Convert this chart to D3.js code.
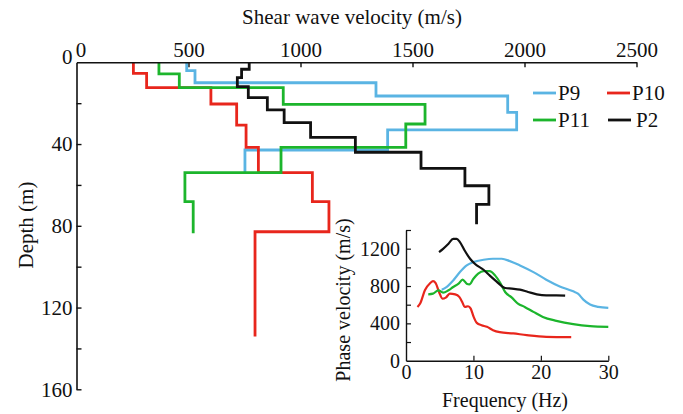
<!DOCTYPE html>
<html>
<head>
<meta charset="utf-8">
<script src="https://cdn.jsdelivr.net/npm/d3@7"></script>
<style>
  html, body { margin: 0; padding: 0; background: #fff; }
  svg { display: block; }
  text { font-family: "Liberation Serif", "Times New Roman", serif; fill: #111; }
</style>
</head>
<body>
<svg id="chart" width="683" height="414"></svg>
<script>
// ---- Main chart: shear-wave velocity step profiles ----
const velTicks = [0, 500, 1000, 1500, 2000, 2500];
const depthTicks = [0, 20, 40, 60, 80, 100, 120, 140, 160];
const depthLabels = [0, 40, 80, 120, 160];

const profileNames = ["P9", "P10", "P11", "P2"];
const profileColors = ["#5ab4e3", "#e8261c", "#1cb52c", "#111111"];

// layer velocities (m/s) and layer boundaries (m)
const P9_vel   = [492, 529, 1337, 1925, 1965, 1389, 752];
const P9_depth = [0, 4.1, 10, 16.5, 24.5, 33.1, 42.9, 54];
const P10_vel   = [254, 313, 600, 715, 757, 812, 1053, 1127, 797];
const P10_depth = [0, 5.4, 12.4, 20.4, 30.7, 41.6, 54, 68.2, 82.9, 134.2];
const P11_vel   = [368, 459, 923, 1556, 1470, 913, 484, 521];
const P11_depth = [0, 5.7, 12.4, 20.6, 30.2, 41.6, 54, 68.2, 83.7];
const P2_vel   = [771, 737, 718, 767, 852, 927, 1045, 1245, 1538, 1734, 1841, 1786];
const P2_depth = [0, 3.4, 7.5, 11.9, 17.3, 23.3, 29.5, 36.7, 44, 51.9, 60.4, 69.5, 79.3];

// ---- Inset: dispersion curves ----
const freqTicks = [0, 10, 20, 30];
const phaseTicks = [0, 200, 400, 600, 800, 1000, 1200, 1400];
const phaseLabels = [0, 400, 800, 1200];

const P9_f = [5.3, 6.0, 7.0, 8.0, 9.0, 10.0, 11.5, 12.9, 14.2, 15.4, 16.9, 18.9, 20.8, 22.8, 24.8, 25.5, 26.3, 27.3, 28.5, 30.0];
const P9_c = [761, 789, 860, 949, 1020, 1056, 1081, 1092, 1092, 1067, 1020, 949, 868, 796, 743, 718, 654, 601, 576, 565];
const P10_f = [1.7, 2.1, 2.8, 3.6, 4.0, 4.4, 4.9, 5.4, 5.9, 6.5, 7.3, 7.9, 8.4, 8.7, 9.2, 9.6, 10.0, 10.5, 11.2, 12.0, 12.9, 13.9, 15.9, 17.9, 20.8, 24.5];
const P10_c = [576, 612, 754, 832, 853, 832, 736, 665, 676, 718, 711, 683, 619, 576, 583, 558, 476, 405, 380, 363, 327, 306, 292, 274, 256, 252];
const P11_f = [3.3, 4.0, 4.8, 5.5, 6.3, 7.0, 7.8, 8.4, 9.0, 9.4, 10.0, 10.7, 11.5, 12.4, 13.2, 13.9, 14.7, 15.7, 16.6, 17.6, 18.9, 20.3, 22.3, 24.8, 27.3, 30.0];
const P11_c = [711, 718, 754, 729, 754, 789, 825, 868, 825, 818, 878, 932, 960, 960, 914, 843, 736, 676, 612, 576, 523, 469, 427, 391, 370, 363];
const P2_f = [4.9, 5.5, 6.3, 7.0, 7.5, 8.0, 8.7, 9.5, 10.2, 11.5, 12.4, 13.4, 14.7, 15.7, 16.9, 18.1, 19.4, 20.8, 22.3, 23.6];
const P2_c = [1163, 1198, 1252, 1305, 1305, 1270, 1180, 1092, 1038, 974, 914, 850, 779, 772, 761, 736, 711, 700, 700, 697];

const svg = d3.select("#chart");
const fmt = d3.format("d");

// Scales (main)
const x = d3.scaleLinear().domain([0, 2500]).range([76.5, 636.5]);
const y = d3.scaleLinear().domain([0, 160]).range([62.3, 389.3]);

function stepPoints(vel, depth) {
  const pts = [];
  vel.forEach((v, i) => { pts.push([v, depth[i]]); pts.push([v, depth[i + 1]]); });
  return pts;
}
const profiles = [
  stepPoints(P9_vel, P9_depth),
  stepPoints(P10_vel, P10_depth),
  stepPoints(P11_vel, P11_depth),
  stepPoints(P2_vel, P2_depth)
];
const stepLine = d3.line().x(d => x(d[0])).y(d => y(d[1]));

profiles.forEach((p, i) => {
  svg.append("path")
    .attr("d", stepLine(p))
    .attr("fill", "none")
    .attr("stroke", profileColors[i])
    .attr("stroke-width", 2.8)
    .attr("stroke-linejoin", "miter");
});

// Top axis
const topAxis = d3.axisTop(x).tickValues(velTicks).tickFormat(fmt)
  .tickSizeInner(-5).tickSizeOuter(0).tickPadding(5);
const gTop = svg.append("g").attr("transform", `translate(0,${y(0)})`).call(topAxis);
gTop.select(".domain").attr("stroke", "#111").attr("stroke-width", 1.6);
gTop.selectAll(".tick line").attr("stroke", "#111").attr("stroke-width", 1.4);
gTop.selectAll(".tick text").attr("font-size", 21).attr("font-family", "Liberation Serif").attr("fill", "#111");
gTop.selectAll(".tick").filter(d => d === 0).select("text").attr("dx", 4);
gTop.selectAll(".tick").filter(d => d === 0).select("line").remove();

// Left axis
const leftAxis = d3.axisLeft(y).tickValues(depthTicks).tickSizeInner(-5).tickSizeOuter(0).tickPadding(4)
  .tickFormat(d => depthLabels.includes(d) ? fmt(d) : "");
const gLeft = svg.append("g").attr("transform", `translate(${x(0)},0)`).call(leftAxis);
gLeft.select(".domain").attr("stroke", "#111").attr("stroke-width", 1.6);
gLeft.selectAll(".tick line").attr("stroke", "#111").attr("stroke-width", 1.4);
gLeft.selectAll(".tick text").attr("font-size", 21).attr("font-family", "Liberation Serif").attr("fill", "#111");
gLeft.selectAll(".tick").filter(d => d === 0).select("text").attr("dy", "0.05em");
gLeft.selectAll(".tick").filter(d => d === 0).select("line").remove();

// Axis titles
svg.append("text").attr("x", 352).attr("y", 24).attr("text-anchor", "middle")
  .attr("font-size", 21).text("Shear wave velocity (m/s)");
svg.append("text").attr("transform", "translate(33,225) rotate(-90)").attr("text-anchor", "middle")
  .attr("font-size", 21).text("Depth (m)");

// Legend
const legendPos = [[533, 93], [607, 93], [533, 120], [608, 120]];
profileNames.forEach((name, i) => {
  const [lx, ly] = legendPos[i];
  svg.append("line").attr("x1", lx).attr("x2", lx + 23).attr("y1", ly).attr("y2", ly)
    .attr("stroke", profileColors[i]).attr("stroke-width", 2.8);
  svg.append("text").attr("x", lx + (i === 3 ? 28 : 25)).attr("y", ly + 7)
    .attr("font-size", 21).text(name);
});

// ---- Inset ----
const fx = d3.scaleLinear().domain([0, 30]).range([406, 608.3]);
const fy = d3.scaleLinear().domain([0, 1400]).range([360.7, 230]);

const curves = [
  P9_f.map((f, i) => [f, P9_c[i]]),
  P10_f.map((f, i) => [f, P10_c[i]]),
  P11_f.map((f, i) => [f, P11_c[i]]),
  P2_f.map((f, i) => [f, P2_c[i]])
];
const curveLine = d3.line().x(d => fx(d[0])).y(d => fy(d[1])).curve(d3.curveMonotoneX);
curves.forEach((c, i) => {
  svg.append("path").attr("d", curveLine(c)).attr("fill", "none")
    .attr("stroke", profileColors[i]).attr("stroke-width", 2.2);
});

const gFx = svg.append("g").attr("transform", `translate(0,${fy(0)})`)
  .call(d3.axisBottom(fx).tickValues(freqTicks).tickFormat(fmt).tickSizeInner(-5).tickSizeOuter(0).tickPadding(4));
gFx.select(".domain").attr("stroke", "#111").attr("stroke-width", 1.4);
gFx.selectAll(".tick line").attr("stroke", "#111").attr("stroke-width", 1.2);
gFx.selectAll(".tick text").attr("font-size", 20).attr("font-family", "Liberation Serif").attr("fill", "#111");
gFx.selectAll(".tick").filter(d => d === 0).select("line").remove();

const gFy = svg.append("g").attr("transform", `translate(${fx(0)},0)`)
  .call(d3.axisLeft(fy).tickValues(phaseTicks).tickSizeInner(-5).tickSizeOuter(0).tickPadding(6)
    .tickFormat(d => phaseLabels.includes(d) ? fmt(d) : ""));
gFy.select(".domain").attr("stroke", "#111").attr("stroke-width", 1.4);
gFy.selectAll(".tick line").attr("stroke", "#111").attr("stroke-width", 1.2);
gFy.selectAll(".tick text").attr("font-size", 20).attr("font-family", "Liberation Serif").attr("fill", "#111");
gFy.selectAll(".tick").filter(d => d === 0).select("line").remove();

svg.append("text").attr("x", 505).attr("y", 407).attr("text-anchor", "middle")
  .attr("font-size", 20).text("Frequency (Hz)");
svg.append("text").attr("transform", "translate(350,300) rotate(-90)").attr("text-anchor", "middle")
  .attr("font-size", 20).text("Phase velocity (m/s)");
</script>
</body>
</html>
